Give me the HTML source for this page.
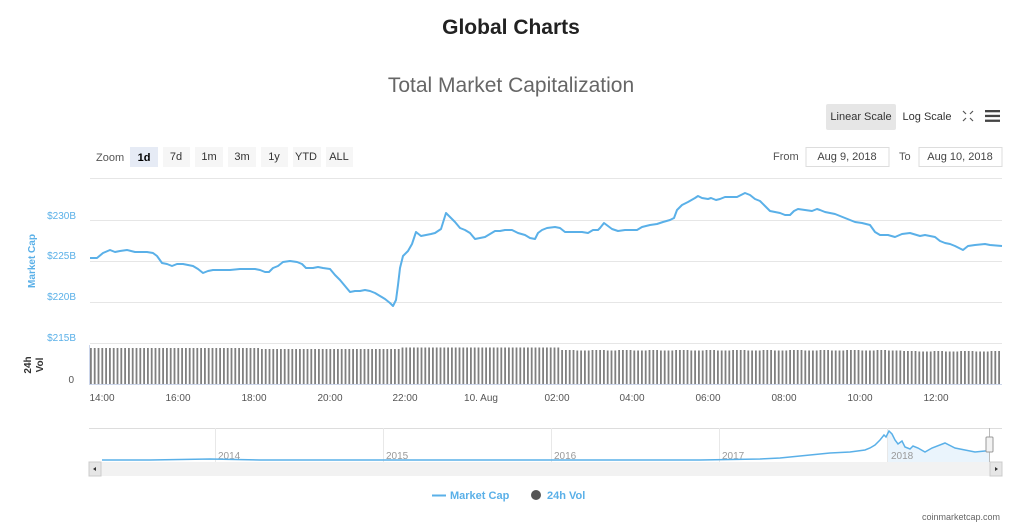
<!DOCTYPE html>
<html><head><meta charset="utf-8"><style>
body{margin:0;background:#fff;width:1024px;height:527px;overflow:hidden;font-family:"Liberation Sans",sans-serif}
svg{display:block}
</style></head><body>
<svg id="s" width="1024" height="527" xmlns="http://www.w3.org/2000/svg" font-family="Liberation Sans, sans-serif">
<text x="511" y="34" text-anchor="middle" font-size="21" font-weight="bold" fill="#222">Global Charts</text>
<text x="511" y="92" text-anchor="middle" font-size="21" fill="#666">Total Market Capitalization</text>
<rect x="826" y="104" width="70" height="26" fill="#e6e6e6" rx="2"/>
<text x="861" y="120" text-anchor="middle" font-size="11" fill="#333">Linear Scale</text>
<text x="927" y="120" text-anchor="middle" font-size="11" fill="#333">Log Scale</text>
<g stroke="#555" stroke-width="1.2" fill="none"><path d="M963 111l3 3M973 111l-3 3M963 121l3-3M973 121l-3-3"/></g>
<g fill="#444"><rect x="985" y="110" width="15" height="2.3"/><rect x="985" y="114.8" width="15" height="2.3"/><rect x="985" y="119.6" width="15" height="2.3"/></g>
<text x="96" y="161" font-size="11" fill="#555">Zoom</text>
<rect x="130" y="147" width="28" height="20" fill="#e6ebf5"/>
<text x="144" y="161" text-anchor="middle" font-size="11" font-weight="bold" fill="#000">1d</text>
<g fill="#f6f6f6"><rect x="163" y="147" width="27" height="20"/><rect x="195" y="147" width="28" height="20"/><rect x="228" y="147" width="28" height="20"/><rect x="261" y="147" width="27" height="20"/><rect x="293" y="147" width="28" height="20"/><rect x="326" y="147" width="27" height="20"/></g>
<g font-size="11" fill="#333" text-anchor="middle"><text x="176" y="160">7d</text><text x="209" y="160">1m</text><text x="242" y="160">3m</text><text x="274" y="160">1y</text><text x="306" y="160">YTD</text><text x="339" y="160">ALL</text></g>
<text x="773" y="160" font-size="11" fill="#555">From</text>
<rect x="806" y="147.5" width="83" height="19" fill="#fff" stroke="#ddd"/>
<text x="847" y="160" text-anchor="middle" font-size="11" fill="#444">Aug 9, 2018</text>
<text x="899" y="160" font-size="11" fill="#555">To</text>
<rect x="919" y="147.5" width="83" height="19" fill="#fff" stroke="#ddd"/>
<text x="960" y="160" text-anchor="middle" font-size="11" fill="#444">Aug 10, 2018</text>
<g stroke="#e6e6e6" stroke-width="1"><line x1="90" y1="178.5" x2="1002" y2="178.5"/><line x1="90" y1="220.5" x2="1002" y2="220.5"/><line x1="90" y1="261.5" x2="1002" y2="261.5"/><line x1="90" y1="302.5" x2="1002" y2="302.5"/><line x1="90" y1="343.5" x2="1002" y2="343.5"/></g>
<g font-size="10" fill="#5ab0e8" text-anchor="end"><text x="76" y="219">$230B</text><text x="76" y="259">$225B</text><text x="76" y="300">$220B</text><text x="76" y="341">$215B</text></g>
<text transform="translate(35,261) rotate(-90)" text-anchor="middle" font-size="10" font-weight="bold" fill="#5ab0e8">Market Cap</text>
<text transform="translate(31,365) rotate(-90)" text-anchor="middle" font-size="10" font-weight="bold" fill="#333">24h</text>
<text transform="translate(43,365) rotate(-90)" text-anchor="middle" font-size="10" font-weight="bold" fill="#333">Vol</text>
<text x="74" y="383" text-anchor="end" font-size="10" fill="#555">0</text>
<g id="bars"></g>
<line x1="89" y1="384.5" x2="1002" y2="384.5" stroke="#ccd6eb"/>
<line x1="89.5" y1="345" x2="89.5" y2="384" stroke="#ccd6eb"/>
<polyline fill="none" stroke="#5ab0e8" stroke-width="2" stroke-linejoin="round" points="90,258 97,258 103,253 110,250 115,252 120,251 127,250 135,252 140,252 147,252 153,253 157,256 162,263 167,264 172,266 177,264 183,264 188,265 193,266 198,269 203,273 208,271 213,270 220,270 230,270 240,269 255,269 260,270 265,272 269,272 273,268 278,266 283,262 290,261 297,262 302,264 306,268 313,268 318,267 323,268 330,269 335,275 340,280 345,286 350,292 355,291 360,291 365,290 370,291 375,293 380,296 385,299 390,303 393,306 396,300 398,285 400,268 403,256 408,251 412,244 416,232 421,236 426,235 431,234 435,233 441,229 446,213 450,217 455,222 460,228 465,230 470,233 475,239 480,238 485,237 490,234 495,231 500,231 505,230 512,230 518,233 525,235 530,238 535,239 538,233 542,230 547,228 555,227 560,228 565,232 575,232 582,232 588,233 593,230 598,230 600,228 604,223 608,226 612,229 618,231 625,230 630,230 637,230 642,227 650,225 657,224 663,222 670,220 674,218 677,210 682,205 688,202 695,198 698,196 702,198 708,199 711,198 716,200 720,199 725,197 730,197 737,197 745,193 750,195 755,199 760,201 765,206 770,211 775,212 780,213 785,215 790,215 794,211 798,209 805,210 812,211 817,209 820,210 825,212 830,213 835,214 845,218 855,222 862,223 870,225 875,232 880,235 888,235 895,237 902,234 910,233 920,236 925,235 930,236 935,237 940,241 945,243 950,244 955,246 963,250 968,246 975,245 985,244 990,245 1002,246"/>
<g font-size="10" fill="#555" text-anchor="middle"><text x="102" y="401">14:00</text><text x="178" y="401">16:00</text><text x="254" y="401">18:00</text><text x="330" y="401">20:00</text><text x="405" y="401">22:00</text><text x="481" y="401">10. Aug</text><text x="557" y="401">02:00</text><text x="632" y="401">04:00</text><text x="708" y="401">06:00</text><text x="784" y="401">08:00</text><text x="860" y="401">10:00</text><text x="936" y="401">12:00</text></g>
<line x1="89" y1="428.5" x2="1002" y2="428.5" stroke="#ddd"/>
<polygon fill="#eaf4fc" points="887,462 887,433 889,431 892,434 895,440 898,444 902,441 905,447 910,449 913,446 918,448 925,452 932,448 945,443 955,448 965,450 975,452 985,451 989,451 989,462"/>
<g stroke="#e8e8e8"><line x1="215.5" y1="428" x2="215.5" y2="462"/><line x1="383.5" y1="428" x2="383.5" y2="462"/><line x1="551.5" y1="428" x2="551.5" y2="462"/><line x1="719.5" y1="428" x2="719.5" y2="462"/><line x1="887.5" y1="428" x2="887.5" y2="462"/></g>
<g font-size="10" fill="#999"><text x="218" y="459">2014</text><text x="386" y="459">2015</text><text x="554" y="459">2016</text><text x="722" y="459">2017</text><text x="891" y="459">2018</text></g>
<polyline fill="none" stroke="#5ab0e8" stroke-width="1.5" points="102,460 150,460 210,459 260,460 500,460 700,460 760,459 780,458 800,456 830,453 850,452 865,450 870,448 875,445 880,440 884,435 886,437 889,431 892,434 895,440 898,444 902,441 905,447 910,449 913,446 918,448 925,452 932,448 945,443 955,448 965,450 975,452 985,451 989,451"/>
<rect x="89" y="462" width="913" height="14" fill="#f2f2f2"/>
<rect x="89" y="462" width="12" height="14" fill="#e6e6e6" stroke="#ccc"/>
<rect x="990" y="462" width="12" height="14" fill="#e6e6e6" stroke="#ccc"/>
<path d="M93 469l3-2v4z" fill="#333"/><path d="M998 469l-3-2v4z" fill="#333"/>
<line x1="989.5" y1="428" x2="989.5" y2="462" stroke="#bbb"/>
<rect x="986" y="437" width="7" height="15" fill="#f2f2f2" stroke="#999" rx="1"/>
<line x1="432" y1="495.5" x2="446" y2="495.5" stroke="#5ab0e8" stroke-width="2"/>
<text x="450" y="499" font-size="11" font-weight="bold" fill="#5ab0e8">Market Cap</text>
<circle cx="536" cy="495" r="5" fill="#555"/>
<text x="547" y="499" font-size="11" font-weight="bold" fill="#5ab0e8">24h Vol</text>
<text x="1000" y="520" text-anchor="end" font-size="9" fill="#666">coinmarketcap.com</text>
</svg>
<script>
var g=document.getElementById('bars'),s='';
for(var x=90;x<1001;x+=3.8){var t;
if(x<400)t=348+ (x>260?1:0);else if(x<560)t=347.5;else t=350+((x*7)%3>1.5?1:0)*0.5+ (x>900?1:0);
s+='<rect x="'+x.toFixed(1)+'" y="'+t+'" width="1.8" height="'+(384-t)+'" fill="#808080"/>';}
g.innerHTML=s;
</script>
</body></html>
